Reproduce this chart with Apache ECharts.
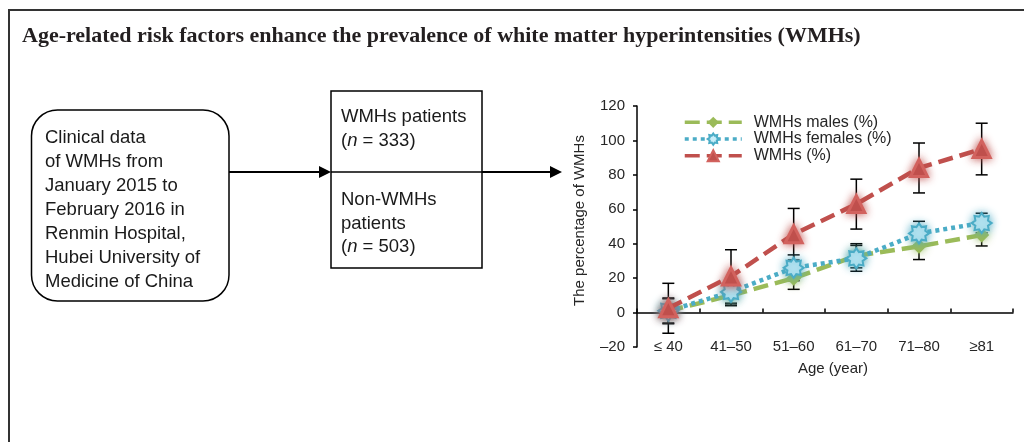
<!DOCTYPE html>
<html style="height: 100%;width:100%">
<head>
<meta charset="utf-8">
</head>
<body style="height: 100%; width:100%; margin:0">
<div id="chart-panel" style="width:1024px;height:442px"></div>
<script type="text/javascript" src="https://cdn.jsdelivr.net/npm/echarts/dist/echarts.min.js"></script>
<script type="text/javascript">
// age groups on the x axis
var ageGroups = ['≤ 40', '41–50', '51–60', '61–70', '71–80', '≥81'];
var yTicks = { min: -20, max: 120, step: 20 };

// percentages
var males = [1, 10, 20, 33, 38.5, 45];
var malesErr = [7, 6, 6.5, 7, 7.7, 6.3];
var females = [1, 12, 26, 31.5, 46, 52];
var femalesErr = [7.5, 7, 7.5, 7.5, 7, 5.7];
var wmhs = [2.5, 21, 45.5, 63, 84, 95];
var wmhsErr = [14.5, 15.5, 15, 14.5, 14.5, 15];

// flowchart texts
var leftLines = ['Clinical data', 'of WMHs from', 'January 2015 to', 'February 2016 in',
  'Renmin Hospital,', 'Hubei University of', 'Medicine of China'];

var dom = document.getElementById('chart-panel');
var myChart = echarts.init(dom);

function errData(vals, errs) {
  var res = [];
  for (var i = 0; i < vals.length; i++) {
    res.push([i, vals[i] - errs[i], vals[i] + errs[i]]);
  }
  return res;
}

function renderErr(params, api) {
  var lo = api.coord([api.value(0), api.value(1)]);
  var hi = api.coord([api.value(0), api.value(2)]);
  var w = 6;
  var st = { stroke: '#000', lineWidth: 1.5 };
  return {
    type: 'group',
    children: [
      { type: 'line', shape: { x1: lo[0], y1: lo[1], x2: hi[0], y2: hi[1] }, style: st },
      { type: 'line', shape: { x1: lo[0] - w, y1: lo[1], x2: lo[0] + w, y2: lo[1] }, style: st },
      { type: 'line', shape: { x1: hi[0] - w, y1: hi[1], x2: hi[0] + w, y2: hi[1] }, style: st }
    ]
  };
}

var star8 = 'path://M50 0 L63 18.6 L85.4 14.6 L81.4 37 L100 50 L81.4 63 L85.4 85.4 L63 81.4 L50 100 L37 81.4 L14.6 85.4 L18.6 63 L0 50 L18.6 37 L14.6 14.6 L37 18.6 Z';

var font = 'Liberation Sans, Arial, sans-serif';

var option = {
  backgroundColor: '#fff',
  animation: false,
  title: {
    text: 'Age-related risk factors enhance the prevalence of white matter hyperintensities (WMHs)',
    left: 22,
    top: 25,
    padding: 0,
    textStyle: {
      fontFamily: 'Liberation Serif, Times New Roman, serif',
      fontWeight: 'bold',
      fontSize: 22,
      lineHeight: 22,
      color: '#231f20'
    }
  },
  legend: {
    data: ['WMHs males (%)', 'WMHs females (%)', 'WMHs (%)'],
    orient: 'vertical',
    left: 683,
    top: 114,
    padding: 0,
    itemGap: 0,
    itemWidth: 57,
    itemHeight: 14,
    lineStyle: { width: 3.5 },
    textStyle: {
      fontFamily: font,
      fontSize: 16,
      lineHeight: 16.7,
      color: '#262626',
      padding: [0, 0, 0, 7]
    }
  },
  grid: {
    left: 637,
    right: 11,
    top: 106,
    bottom: 95,
    containLabel: false
  },
  xAxis: {
    type: 'category',
    data: ageGroups,
    boundaryGap: true,
    name: 'Age (year)',
    nameLocation: 'middle',
    nameGap: 14,
    nameTextStyle: { fontFamily: font, fontSize: 15, color: '#262626', padding: [0, 0, 0, 16] },
    axisLine: { onZero: true, lineStyle: { color: '#000', width: 1.5 } },
    axisTick: { show: true, inside: true, length: 4, lineStyle: { color: '#000', width: 1.5 } },
    axisLabel: { margin: -8, fontFamily: font, fontSize: 15, color: '#262626' },
    splitLine: { show: false }
  },
  yAxis: {
    type: 'value',
    min: yTicks.min,
    max: yTicks.max,
    interval: yTicks.step,
    name: 'The percentage of WMHs',
    nameLocation: 'middle',
    nameGap: 50,
    nameTextStyle: { fontFamily: font, fontSize: 15, color: '#262626', padding: [0, 0, 0, 12] },
    axisLine: { show: true, onZero: false, lineStyle: { color: '#000', width: 1.5 } },
    axisTick: { show: true, inside: false, length: 4, lineStyle: { color: '#000', width: 1.5 } },
    axisLabel: {
      margin: 12,
      fontFamily: font,
      fontSize: 15,
      color: '#262626',
      formatter: function (v) { return v < 0 ? '\u2013' + Math.abs(v) : String(v); }
    },
    splitLine: { show: false }
  },
  series: [
    {
      name: 'WMHs males err',
      type: 'custom',
      renderItem: renderErr,
      encode: { x: 0, y: [1, 2] },
      data: errData(males, malesErr),
      z: 1
    },
    {
      name: 'WMHs females err',
      type: 'custom',
      renderItem: renderErr,
      encode: { x: 0, y: [1, 2] },
      data: errData(females, femalesErr),
      z: 1
    },
    {
      name: 'WMHs err',
      type: 'custom',
      renderItem: renderErr,
      encode: { x: 0, y: [1, 2] },
      data: errData(wmhs, wmhsErr),
      z: 1
    },
    {
      name: 'WMHs males (%)',
      type: 'line',
      data: males,
      symbol: 'diamond',
      symbolSize: 15,
      lineStyle: { color: '#9BBB59', width: 4.5, type: [15, 7] },
      itemStyle: { color: '#9BBB59', shadowBlur: 8, shadowColor: 'rgba(155,187,89,0.9)' },
      z: 3
    },
    {
      name: 'WMHs females (%)',
      type: 'line',
      data: females,
      symbol: star8,
      symbolSize: 20,
      lineStyle: { color: '#4BACC6', width: 4.5, type: [4, 4] },
      itemStyle: { color: '#C9EEF9', borderColor: '#4BACC6', borderWidth: 2, shadowBlur: 8, shadowColor: 'rgba(75,172,198,0.9)' },
      z: 4
    },
    {
      name: 'WMHs (%)',
      type: 'line',
      data: wmhs,
      symbol: 'triangle',
      symbolSize: 17,
      lineStyle: { color: '#C0504D', width: 4.5, type: [15, 7] },
      itemStyle: { color: '#C0504D', borderColor: '#D2625E', borderWidth: 3, shadowBlur: 8, shadowColor: 'rgba(192,80,77,0.9)' },
      z: 5
    }
  ],
  graphic: [
    // outer frame
    { type: 'polyline', shape: { points: [[9, 442], [9, 10], [1024, 10]] }, style: { stroke: '#333', lineWidth: 2, fill: null } },
    // rounded source box
    { type: 'rect', shape: { x: 31.5, y: 110, width: 197.5, height: 191, r: 26 }, style: { stroke: '#000', lineWidth: 1.5, fill: '#fff' } },
    {
      type: 'text', left: 45, top: 126,
      style: { text: leftLines.join('\n'), font: '18.5px ' + font, lineHeight: 24, fill: '#1a1a1a' }
    },
    // arrow 1
    { type: 'line', shape: { x1: 229, y1: 172, x2: 320, y2: 172 }, style: { stroke: '#000', lineWidth: 2 } },
    { type: 'polygon', shape: { points: [[319, 166], [331, 172], [319, 178]] }, style: { fill: '#000' } },
    // patients box
    { type: 'rect', shape: { x: 331, y: 91, width: 151, height: 177 }, style: { stroke: '#000', lineWidth: 1.5, fill: '#fff' } },
    { type: 'line', shape: { x1: 331, y1: 172, x2: 482, y2: 172 }, style: { stroke: '#000', lineWidth: 1.5 } },
    {
      type: 'text', left: 341, top: 105,
      style: {
        text: 'WMHs patients\n({i|n} = 333)',
        font: '18.5px ' + font, lineHeight: 23.7, fill: '#1a1a1a',
        rich: { i: { fontStyle: 'italic', fontFamily: font, fontSize: 18.5, fill: '#1a1a1a' } }
      }
    },
    {
      type: 'text', left: 341, top: 188.5,
      style: {
        text: 'Non-WMHs\npatients\n({i|n} = 503)',
        font: '18.5px ' + font, lineHeight: 23.3, fill: '#1a1a1a',
        rich: { i: { fontStyle: 'italic', fontFamily: font, fontSize: 18.5, fill: '#1a1a1a' } }
      }
    },
    // arrow 2
    { type: 'line', shape: { x1: 482, y1: 172, x2: 551, y2: 172 }, style: { stroke: '#000', lineWidth: 2 } },
    { type: 'polygon', shape: { points: [[550, 166], [562, 172], [550, 178]] }, style: { fill: '#000' } }
  ]
};

myChart.setOption(option);
</script>
</body>
</html>
